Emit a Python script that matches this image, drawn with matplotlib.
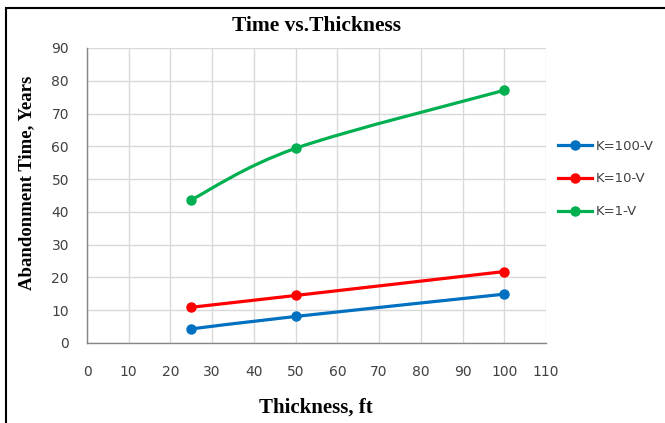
import matplotlib.pyplot as plt
import numpy as np
from matplotlib.path import Path
from matplotlib.patches import PathPatch, Rectangle
from matplotlib.lines import Line2D

thickness = [25, 50, 100]
k100 = [4.3, 8.1, 14.9]
k10 = [10.9, 14.5, 21.8]
k1 = [43.7, 59.4, 77.1]
labels = ["K=100-V", "K=10-V", "K=1-V"]
colors = ["#0070C0", "#FF0000", "#00B050"]


def smooth_path(x, y):
    # Excel-style smoothed line: cubic Bezier segments, tangents from neighbours
    x = np.asarray(x, float)
    y = np.asarray(y, float)
    n = len(x)
    verts = [(x[0], y[0])]
    codes = [Path.MOVETO]
    for i in range(n - 1):
        p0 = (x[max(i - 1, 0)], y[max(i - 1, 0)])
        p1 = (x[i], y[i])
        p2 = (x[i + 1], y[i + 1])
        p3 = (x[min(i + 2, n - 1)], y[min(i + 2, n - 1)])
        c1 = (p1[0] + (p2[0] - p0[0]) / 6, p1[1] + (p2[1] - p0[1]) / 6)
        c2 = (p2[0] - (p3[0] - p1[0]) / 6, p2[1] - (p3[1] - p1[1]) / 6)
        verts += [c1, c2, p2]
        codes += [Path.CURVE4] * 3
    return Path(verts, codes)


fig = plt.figure(figsize=(6.65, 4.23), dpi=100)
fig.patches.append(Rectangle((6 / 665, -0.1), 1.1, 1 - 8 / 423 + 0.1,
                             transform=fig.transFigure, fill=False,
                             edgecolor="black", linewidth=1.5))

ax = fig.add_axes([87 / 665, 1 - 343 / 423, 459 / 665, 295 / 423])
handles = []
for ys, lab, col in zip([k100, k10, k1], labels, colors):
    ax.add_patch(PathPatch(smooth_path(thickness, ys), fill=False,
                           edgecolor=col, linewidth=2.3, capstyle="round"))
    ax.plot(thickness, ys, linestyle="none", marker="o", markersize=6.5,
            color=col, zorder=3)
    handles.append(Line2D([], [], color=col, linewidth=2.3, marker="o",
                          markersize=6.5, label=lab))

ax.set_xlim(0, 110)
ax.set_ylim(0, 90)
ax.set_xticks(np.arange(0, 111, 10))
ax.set_yticks(np.arange(0, 91, 10))
ax.grid(True, color="#d9d9d9", linewidth=1.0)
ax.set_axisbelow(True)
for s in ["top", "right"]:
    ax.spines[s].set_visible(False)
for s in ["left", "bottom"]:
    ax.spines[s].set_color("#868686")
    ax.spines[s].set_linewidth(1.0)
ax.tick_params(length=0, labelsize=10, labelcolor="#404040")
ax.tick_params(axis="x", pad=16)
ax.tick_params(axis="y", pad=13)

serif = ["Liberation Serif", "DejaVu Serif"]
fig.text(316 / 665, 1 - 26 / 423, "Time vs.Thickness", ha="center", va="center",
         fontsize=15.5, fontweight="bold", family=serif)
fig.text(316 / 665, 1 - 408 / 423, "Thickness, ft", ha="center", va="center",
         fontsize=15, fontweight="bold", family=serif)
fig.text(27 / 665, 1 - 183 / 423, "Abandonment Time, Years", ha="center",
         va="center", rotation=90, fontsize=13.5, fontweight="bold",
         family=serif)

fig.legend(handles=handles, loc="upper left",
           bbox_to_anchor=(551 / 665, 1 - 133 / 423), frameon=False,
           borderpad=0, fontsize=9.5, handlelength=2.6, handletextpad=0.3,
           labelspacing=1.5, labelcolor="#404040")

fig.savefig("out.png", dpi=100)
